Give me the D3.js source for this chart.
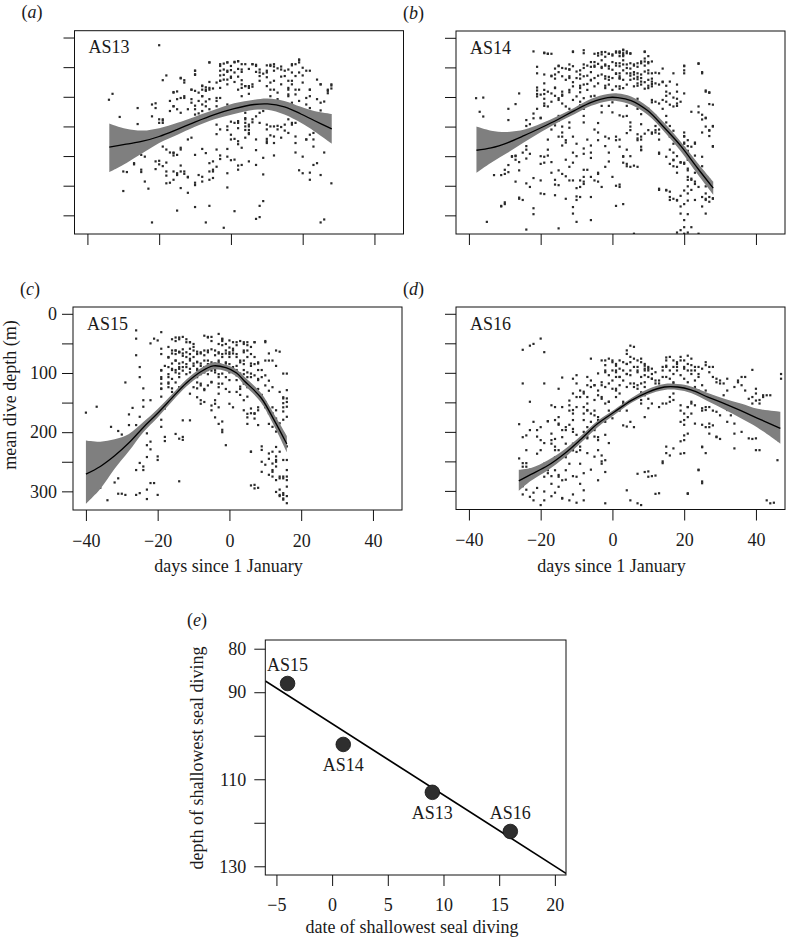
<!DOCTYPE html>
<html><head><meta charset="utf-8">
<script src="https://cdn.jsdelivr.net/npm/d3@7"></script>
<style>
body{margin:0;background:#fff}
svg{display:block}
text{font-family:"Liberation Serif","Times New Roman",Times,serif;fill:#1a1a1a}
</style>
</head><body>
<svg id="chart" width="789" height="941" font-family="Liberation Serif, Times New Roman, serif"></svg>
<script>
// ---------------- DATA ----------------
const seals = ["AS13", "AS14", "AS15", "AS16"];
const panelLetters = ["a", "b", "c", "d"];
const dayTicks = [-40, -20, 0, 20, 40];
const depthTicks = [0, 50, 100, 150, 200, 250, 300];
const depthTickLabels = [0, 100, 200, 300];

// [day since 1 January, mean dive depth (m)]
const AS13_points = [
[-20,13],[-34,105],[-33,95],[-31,134],[-30,226],[-29,227],[-30,259],[-26,119],[-26,146],[-25,198],[-24,201],[-25,227],[-27,214],[-23,255],[-22,312],[-22,133],[-21,111],[-21,119],[-21,222],[-20,208],[-20,214],[-20,144],[-19,140],[-19,144],[-19,72],[-18,64],[-19,184],[-18,211],[-18,226],[-18,233],[-17,245],[-17,107],[-17,194],[-16,194],[-16,199],[-16,92],[-15,91],[-16,116],[-15,121],[-15,292],[-14,69],[-13,72],[-14,102],[-13,102],[-14,186],[-15,229],[-14,226],[-14,216],[-12,172],[-11,169],[-12,236],[-12,262],[-10,56],[-10,63],[-11,88],[-10,90],[-11,110],[-10,115],[-10,121],[-10,245],[-10,286],[-9,232],[-9,128],[-8,81],[-8,88],[-7,88],[-7,84],[-6,88],[-5,86],[-8,99],[-8,113],[-7,108],[-7,116],[-8,188],[-7,312],[-6,75],[-6,42],[-6,212],[-6,226],[-5,209],[-5,223],[-5,237],[-6,284],[-4,102],[-4,116],[-4,124],[-4,163],[-3,48],[-3,56],[-3,64],[-3,73],[-3,85],[-3,199],[-3,205],[-2,321],[-2,44],[-1,42],[-2,54],[-2,63],[-1,58],[-1,71],[-1,79],[-1,156],[-1,188],[0,207],[-1,253],[0,55],[1,41],[2,40],[2,53],[0,66],[1,75],[2,66],[0,142],[0,164],[1,171],[2,180],[1,293],[2,216],[2,223],[2,144],[2,153],[3,45],[3,58],[3,72],[3,85],[4,82],[3,186],[4,127],[4,136],[5,119],[5,95],[5,82],[6,83],[4,144],[4,150],[4,156],[5,163],[5,156],[5,147],[6,45],[7,46],[7,58],[8,54],[8,65],[9,61],[6,143],[7,190],[7,306],[8,303],[8,284],[9,276],[9,231],[7,133],[8,127],[9,124],[10,56],[10,67],[10,82],[11,88],[12,88],[13,93],[10,155],[10,171],[10,178],[11,165],[11,150],[12,150],[13,149],[14,151],[12,199],[11,46],[12,49],[13,52],[14,54],[14,66],[15,157],[15,65],[16,73],[16,88],[16,99],[16,121],[17,116],[17,144],[18,144],[17,45],[18,45],[19,37],[19,42],[18,167],[17,73],[18,65],[18,96],[18,88],[18,194],[19,224],[20,229],[20,51],[20,64],[20,76],[20,201],[21,172],[22,164],[21,113],[22,119],[22,88],[22,99],[22,56],[22,240],[22,228],[23,215],[24,212],[23,184],[23,172],[24,71],[25,79],[25,110],[25,123],[25,232],[25,312],[26,307],[26,194],[26,108],[27,88],[27,94],[28,81],[28,86],[28,246],
[-6,42],[-3,45],[-1,42],[0,48],[1,42],[2,40],[4,45],[6,45],[7,48],[10,47],[11,48],[12,45],[14,49],[16,54],[17,47],[19,38],[21,56],[-10,56],[-10,62],[-1,56],[1,59],[3,54],[5,53],[8,59],[10,59],[12,56],[15,56],[17,59],[19,59],
[-14,68],[-13,76],[-11,88],[-9,93],[-8,82],[-7,90],[-6,85],[-4,76],[-3,73],[-2,71],[0,68],[2,88],[3,79],[4,82],[5,85],[6,79],[8,73],[11,76],[12,73],[14,79],[16,85],[17,79],[19,88],[22,88],[25,79],[27,90],[28,79],
[-16,93],[-15,104],[-13,99],[-11,104],[-9,107],[-8,99],[-6,104],[-4,107],[-3,102],[-1,113],[1,116],[3,99],[11,99],[13,104],[16,96],[17,110],[19,107],[21,102],[24,104],
[-22,113],[-20,138],[-19,138],[-17,124],[-16,116],[-14,127],[-12,121],[-10,130],[-8,124],[-7,136],[-6,121],[-4,127],
[-4,147],[-3,155],[-1,150],[1,144],[2,141],[4,138],[5,150],[6,138],[8,144],[10,147],[12,167],[13,155],[15,147],[16,138],[17,147],
[0,172],[2,175],[4,169],[5,161],[7,172],[10,175],[12,178],[14,169],[16,161],[18,178],[21,172],[23,161],[25,152],
[-18,189],[-16,195],[-15,198],[-14,189],[-10,198],[-7,195],[-4,189],[-1,201],[1,206],[3,215],[5,209],[7,215],[9,203],
[-27,212],[-25,223],[-21,209],[-19,217],[-16,226],[-15,232],[-13,226],[-12,235],[-8,235],[-5,226],[-4,218],[-1,229],
[-24,243],[-18,246],[-16,240],[-14,254],[-13,230],[-10,249],[-8,243],[-6,240]
];
const AS14_points = [
[-37,18],[-38,102],[-36,101],[-37,125],[-36,133],[-35,311],[-31,285],[-30,278],[-29,120],[-29,139],[-27,112],[-26,94],[-26,270],[-25,274],[-28,200],[-27,206],[-27,200],[-29,215],[-30,223],[-31,232],[-33,232],[-27,243],[-26,224],[-25,194],[-24,189],[-24,183],[-24,149],[-23,146],[-24,324],[-22,128],[-22,237],[-22,288],[-21,49],[-21,84],[-21,89],[-21,95],[-21,120],[-20,135],[-20,149],[-20,263],[-20,200],[-19,211],[-19,25],[-18,27],[-19,88],[-19,95],[-19,103],[-19,115],[-18,172],[-18,189],[-18,199],[-17,228],[-16,240],[-16,248],[-17,64],[-16,52],[-16,69],[-15,58],[-15,47],[-16,84],[-16,98],[-15,105],[-14,98],[-17,155],[-16,148],[-15,132],[-15,140],[-14,160],[-14,150],[-15,322],[-14,182],[-13,177],[-13,206],[-13,234],[-13,52],[-12,53],[-12,68],[-12,92],[-12,120],[-12,143],[-12,152],[-11,24],[-11,75],[-11,194],[-11,211],[-10,200],[-10,254],[-10,268],[-10,274],[-11,297],[-10,311],[-9,55],[-9,69],[-9,81],[-9,92],[-9,114],[-8,120],[-8,132],[-8,143],[-8,21],[-8,243],[-8,223],[-7,223],[-6,308],[-7,47],[-7,64],[-7,78],[-6,72],[-6,58],[-6,41],[-7,172],[-6,194],[-6,203],[-5,27],[-5,41],[-5,49],[-4,30],[-4,44],[-4,64],[-3,24],[-3,38],[-3,49],[-5,98],[-4,103],[-3,115],[-3,126],[-5,155],[-4,144],[-4,160],[-4,228],[-4,243],[-2,183],[-1,194],[-1,209],[-2,32],[-2,47],[-2,69],[-2,81],[-1,27],[-1,52],[-1,66],[-1,103],[-1,115],[0,109],[0,126],[0,30],[0,41],[1,25],[1,47],[1,61],[1,284],[2,248],[2,24],[2,69],[2,86],[3,21],[3,38],[3,55],[2,172],[3,200],[3,211],[4,217],[4,189],[5,200],[4,115],[4,132],[5,143],[6,331],[5,52],[5,64],[6,47],[6,58],[6,69],[7,49],[7,66],[7,81],[7,103],[7,120],[8,115],[8,129],[8,146],[7,163],[8,172],[8,189],[9,24],[9,35],[9,47],[10,41],[10,55],[9,75],[9,86],[10,81],[11,78],[11,69],[10,120],[11,109],[11,129],[12,132],[12,149],[11,160],[12,160],[13,155],[13,172],[13,194],[13,257],[14,52],[14,75],[15,81],[15,98],[15,257],[16,260],[16,274],[14,120],[15,132],[15,143],[16,149],[16,160],[17,157],[17,166],[16,189],[17,194],[17,206],[17,217],[18,200],[18,228],[19,211],[17,101],[18,103],[18,115],[18,274],[19,285],[20,47],[20,55],[20,160],[20,166],[20,177],[20,186],[19,297],[20,308],[19,325],[20,331],[20,211],[21,206],[21,183],[21,191],[21,240],[21,251],[21,263],[22,257],[22,240],[23,177],[23,228],[23,243],[23,274],[24,44],[25,58],[24,126],[25,138],[25,160],[25,217],[25,234],[26,251],[26,263],[26,89],[27,92],[26,135],[27,112],[27,157],[27,166],[28,149],[28,183],[26,274],[27,277],[28,271],[25,285],[26,297],[24,331],
[2,23],[3,26],[4,23],[3,29],[4,26],[5,26],[5,27],[2,31],[3,31],
[1,43],[2,43],[3,45],[4,45],[5,43],[6,45],[7,43],[8,40],[8,43],[9,40],[10,43],[11,40],[9,23],[10,31],
[1,60],[2,60],[4,60],[5,60],[6,62],[7,60],[8,62],[9,57],[10,60],[11,60],[12,59],[13,60],
[2,68],[3,71],[5,71],[7,70],[8,68],[8,74],[10,71],[11,74],[12,77],[14,74],[16,74],[17,60],[20,60],[20,48],[24,43],[25,60],
[1,82],[3,85],[4,79],[6,82],[7,77],[8,79],[10,85],[11,82],[13,79],[15,91],[16,94],[18,91],[18,79],[20,94],[26,91],[27,93],[28,113],
[11,105],[12,108],[13,111],[14,105],[15,108],[16,113],[17,116],[18,111],[19,108],
[22,125],[24,116],[25,130],[26,136],[26,150],[27,156],[28,150],[28,184],[2,131],[3,133],
[4,161],[5,156],[5,150],[7,170],[7,173],[8,167],[9,162],[10,156],[11,162],[12,156],[13,162],
[14,150],[15,156],[16,167],[17,179],[18,173],[19,184],[20,179],[20,167],[21,173],[22,184],[23,179],
[1,167],[2,184],[3,201],[4,213],[5,218],[6,216],[7,218],[8,190],[8,184],
[13,196],[15,201],[16,213],[17,207],[18,218],[19,210],[20,213],[21,224],[21,221],[23,199],[25,201],
[21,235],[22,238],[23,247],[24,252],[25,269],[26,272],[27,269],[28,272],
[13,255],[15,258],[16,269],[17,272],[18,275],[19,267],[20,258],[20,281],[21,298],[20,320],[22,320],[21,275],
[1,250],[2,252],[3,281],[18,329],[21,329],
[-19,26],[-18,27],[-17,27],[-22,23],[-11,23],[-8,26],[-4,26],[-3,28],[-2,24],[-1,27],[0,28],[1,23],[2,26],[3,20],
[-15,48],[-14,51],[-12,45],[-12,54],[-11,48],[-10,57],[-8,51],[-8,45],[-6,49],[-5,47],[-3,51],[-2,45],[-1,48],[0,54],[2,48],[4,51],
[-21,60],[-19,62],[-17,65],[-16,62],[-14,65],[-13,71],[-12,65],[-10,68],[-9,62],[-8,65],[-6,71],[-5,68],[-3,62],[-2,65],[-1,71],[0,68],[2,65],
[-19,77],[-18,91],[-17,94],[-16,85],[-14,91],[-14,96],[-12,88],[-11,82],[-9,85],[-8,79],[-7,88],[-5,82],[-4,77],[-2,85],[-1,79],[0,88],[2,82],
[-21,99],[-20,96],[-19,111],[-18,116],[-17,108],[-15,102],[-14,111],[-13,116],[-11,105],[-10,99],[-9,108],[-8,102],[-6,99],
[-24,139],[-22,136],[-20,136],
[-15,167],[-14,167],[-13,173],[-11,167],[-10,179],[-8,187],[-8,196],[-6,182],[-4,173],[-2,167],[-1,170],[1,173],
[-28,201],[-27,199],[-26,210],[-24,204],[-23,196],[-20,213],[-19,201],[-17,210],[-15,224],[-14,230],[-12,218],[-11,241],[-9,241],[-8,235],[-6,235],[-4,230],[-2,218],[0,235],
[-30,230],[-29,227],
[-24,246],[-23,252],[-20,241],[-15,249],[-12,241],[-9,252],[-8,247],[-5,241],[-3,252],
[-31,284],[-30,281],[-26,272],[-22,298],[-19,264],[-16,266],[-13,272],[-11,286],[-9,269],[-6,269]
];
const AS15_points = [
[-40,167],[-37,157],[-39,286],[-37,297],[-36,294],[-34,315],[-33,191],[-32,285],[-31,278],[-31,198],[-30,204],[-31,304],[-30,304],[-29,306],[-29,116],[-28,170],[-28,188],[-27,159],[-26,70],[-25,90],[-25,107],[-24,126],[-24,146],[-24,157],[-26,28],[-26,42],[-26,188],[-25,174],[-25,252],[-26,264],[-25,303],[-26,306],[-24,264],[-24,258],[-23,313],[-23,297],[-23,202],[-23,222],[-23,242],[-22,50],[-22,146],[-22,216],[-22,229],[-22,286],[-21,286],[-21,42],[-20,45],[-20,241],[-20,247],[-20,306],[-19,31],[-19,59],[-19,95],[-19,107],[-19,118],[-19,126],[-19,140],[-19,179],[-19,191],[-18,160],[-18,208],[-18,215],[-17,56],[-17,73],[-17,90],[-17,107],[-17,118],[-16,67],[-16,84],[-16,95],[-16,126],[-15,137],[-15,62],[-15,79],[-15,95],[-14,64],[-14,84],[-14,101],[-13,67],[-13,90],[-13,208],[-13,213],[-14,283],[-13,39],[-12,48],[-12,73],[-12,90],[-11,59],[-11,76],[-11,93],[-11,112],[-11,48],[-10,56],[-10,73],[-10,84],[-9,64],[-9,81],[-9,95],[-9,107],[-9,126],[-8,118],[-7,129],[-8,67],[-8,84],[-7,70],[-7,90],[-6,62],[-6,79],[-6,95],[-6,39],[-5,39],[-5,115],[-5,163],[-4,146],[-4,70],[-4,84],[-4,95],[-3,67],[-3,79],[-3,107],[-2,73],[-2,90],[-2,101],[-3,34],[-2,42],[-2,53],[-3,118],[-3,135],[-2,182],[-2,196],[-1,67],[-1,84],[0,73],[0,95],[0,112],[1,67],[1,90],[0,45],[1,48],[1,59],[2,53],[2,73],[2,95],[2,112],[3,79],[3,101],[3,123],[2,132],[3,137],[4,48],[4,62],[4,79],[5,53],[5,73],[6,56],[6,84],[4,95],[5,107],[5,118],[6,101],[6,123],[4,146],[5,140],[6,160],[6,168],[6,233],[7,48],[7,73],[8,84],[8,95],[8,112],[9,95],[9,107],[7,168],[7,177],[8,163],[8,188],[7,289],[8,294],[9,137],[10,149],[10,157],[11,168],[10,48],[11,67],[11,79],[9,250],[10,255],[11,272],[9,224],[12,168],[13,177],[13,199],[14,185],[14,196],[13,62],[14,64],[12,233],[13,241],[13,250],[13,258],[12,264],[14,275],[14,297],[15,314],[15,303],[15,278],[14,308],[15,101],[16,101],[15,143],[16,143],[15,151],[16,157],[15,165],[16,174],[15,179],[16,264],[16,275],[16,292],[16,308],[16,320],[16,129],[16,224],
[-15,40],[-14,43],[-12,43],[-11,48],[-10,51],[-7,37],[-6,40],[-5,46],[-3,51],[-2,46],[-2,43],[-1,51],[0,57],[2,48],[3,46],[4,51],[5,48],[7,48],[10,46],
[-15,62],[-14,65],[-13,60],[-12,65],[-11,68],[-10,62],[-9,68],[-8,65],[-7,62],[-6,65],[-5,60],[-4,62],[-3,65],[-2,68],[-1,62],[0,65],[0,68],[1,62],[2,68],[4,65],[5,62],[6,68],
[-15,79],[-13,82],[-12,85],[-11,79],[-10,88],[-9,82],[-8,88],[-7,79],[-6,85],[-5,82],[-4,88],[-4,85],[-3,82],[-2,88],[-1,82],[0,85],[2,88],[3,82],[4,85],[6,88],[7,85],[8,82],[10,79],[12,79],[13,88],
[-14,93],[-13,96],[-12,102],[-11,99],[-9,93],[-8,102],[-7,99],[-6,102],[-5,96],[-4,99],[-3,102],[-1,107],[0,99],[2,104],[4,102],[5,99],[6,107],[7,104],[8,110],[10,104],[11,113],
[-12,118],[-10,124],[-9,116],[-8,121],[-7,127],[-6,121],[-5,116],[-3,124],[-2,118],[-1,127],[0,132],[3,127],[4,118],[5,124],[7,130],[8,127],[10,121],[11,130],[12,124],[14,132],[15,141],[16,149],
[-11,135],[-9,141],[-8,146],[-8,152],[-7,149],[-5,155],[-4,152],[-3,158],[0,152],[1,158],[4,163],[5,169],[5,175],[7,169],[8,158],[10,158],[12,158],[13,163],[15,158],
[-13,180],[-11,180],[-4,175],[-3,186],[-2,200],[-1,222],[5,186],[11,186],[12,191],
[-15,203],[-14,211],[6,233],[9,230],[11,236],[11,245],[12,253],[13,247],[13,225],[14,233],[15,247],
[9,267],[12,275],[12,267],[13,281],[14,278],[15,275],[16,281],[16,247],[6,290],[7,295],[13,301],[14,306],[15,312],[15,306],
[-19,96],[-18,88],[-17,102],[-16,93],[-15,99],[-14,90],[-19,110],[-17,116],[-16,110],[-15,116],[-14,107],[-19,127],[-17,124],[-16,132],[-14,124],[-19,68],[-17,74],[-16,62],[-15,68],[-14,65],[-13,71],[-16,43],[-15,46],[-14,40]
];
const AS16_points = [
[-26,187],[-25,118],[-25,61],[-26,245],[-25,259],[-25,268],[-24,231],[-24,253],[-23,54],[-22,51],[-20,42],[-19,65],[-25,209],[-24,206],[-23,197],[-25,306],[-23,310],[-22,316],[-20,324],[-19,316],[-23,149],[-22,183],[-21,197],[-20,192],[-21,237],[-20,231],[-20,265],[-19,254],[-19,276],[-19,118],[-18,182],[-17,203],[-17,220],[-16,212],[-16,231],[-16,243],[-17,155],[-16,158],[-18,265],[-17,288],[-16,265],[-15,276],[-15,293],[-14,282],[-15,127],[-14,108],[-15,175],[-15,186],[-14,197],[-14,209],[-13,192],[-13,220],[-14,240],[-13,243],[-12,254],[-13,265],[-12,147],[-12,164],[-11,169],[-11,180],[-11,195],[-11,110],[-10,104],[-10,118],[-11,220],[-11,231],[-10,234],[-9,231],[-9,254],[-10,276],[-9,288],[-8,299],[-8,316],[-12,316],[-14,313],[-9,130],[-9,141],[-8,135],[-8,158],[-7,152],[-7,164],[-8,180],[-7,192],[-7,209],[-7,107],[-6,76],[-6,124],[-6,169],[-6,183],[-5,164],[-5,197],[-4,180],[-4,209],[-4,231],[-3,240],[-3,254],[-2,248],[-2,268],[-5,121],[-4,130],[-3,121],[-3,141],[-4,282],[-3,79],[-2,87],[-2,99],[-2,152],[-1,149],[-1,164],[-2,321],[-1,76],[0,79],[0,96],[0,113],[1,85],[1,96],[1,107],[0,127],[1,130],[2,135],[2,93],[2,107],[3,82],[3,96],[3,113],[4,62],[4,68],[4,85],[4,102],[2,164],[3,152],[4,164],[4,191],[4,299],[5,316],[7,321],[8,324],[5,54],[5,73],[5,96],[6,56],[6,76],[6,90],[7,79],[7,96],[5,118],[6,124],[7,121],[7,141],[8,118],[8,133],[8,152],[6,192],[8,76],[9,85],[9,96],[10,90],[10,107],[11,93],[11,110],[7,271],[9,268],[10,276],[12,274],[12,305],[12,118],[13,113],[13,124],[14,96],[14,107],[15,90],[15,79],[14,253],[15,236],[16,240],[15,152],[16,149],[16,141],[17,135],[17,118],[16,73],[17,79],[17,90],[18,85],[18,96],[19,73],[20,79],[20,90],[19,164],[20,169],[20,180],[21,158],[21,175],[22,152],[22,169],[19,237],[20,214],[21,305],[21,96],[22,87],[22,102],[23,96],[23,113],[24,90],[24,107],[23,124],[24,130],[25,121],[25,135],[26,130],[24,265],[25,287],[25,226],[25,164],[26,158],[26,192],[27,192],[28,189],[28,164],[26,87],[27,90],[28,90],[29,209],[30,212],[29,110],[30,113],[30,118],[31,138],[32,130],[34,228],[34,152],[35,113],[36,121],[37,107],[37,130],[38,144],[39,152],[39,141],[40,135],[39,95],[40,147],[41,152],[42,138],[39,212],[40,231],[41,175],[43,316],[44,321],[45,320],[46,248],[47,102],[47,110],[44,138],
[-2,79],[0,82],[1,88],[2,79],[4,85],[5,82],[7,90],[8,82],[9,88],[10,93],
[-4,101],[-2,96],[-1,104],[1,99],[2,107],[4,102],[5,104],[7,99],[8,107],[9,104],
[-7,121],[-6,113],[-5,121],[-3,116],[-2,124],[-1,118],[1,127],[2,121],[4,124],[6,118],[7,127],[9,124],
[-11,135],[-10,141],[-8,132],[-7,141],[-5,146],[-4,138],[-3,144],[-1,149],[1,141],[3,149],[6,144],[8,146],
[-14,158],[-12,155],[-11,163],[-10,158],[-8,169],[-7,163],[-5,172],[-4,175],[-2,183],[0,177],[3,189],[5,183],
[-18,182],[-16,180],[-15,188],[-13,197],[-12,188],[-11,200],[-10,205],[-8,200],[-7,211],[-5,208],[-4,214],[-2,205],[-1,219],
[-21,208],[-20,214],[-19,219],[-17,214],[-16,225],[-15,231],[-13,236],[-11,231],[-9,225],[-7,236],[-5,242],[-3,250],
[-25,253],[-24,259],[-23,264],[-21,261],[-20,267],[-18,270],[-17,275],[-15,273],[-13,281],[-11,275],[-8,270],[-6,264],
[-25,292],[-24,298],[-22,303],[-21,295],[-19,301],[-17,309],[-16,303],[-14,312],[-11,306],[-10,320],
[9,93],[10,96],[11,102],[12,99],[14,90],[15,88],[15,74],[16,96],[17,102],[18,90],[18,82],[19,79],[20,93],[21,85],[21,71],[22,76],[22,96],[23,90],[24,102],[25,93],[26,82],[27,99],[28,107],[29,116],[31,118],[32,110],[34,124],[35,116],[36,107],[40,127],[42,141],[43,138],
[9,116],[11,110],[12,113],[13,118],[15,107],[16,110],[17,116],[19,104],[20,110],[21,116],
[9,138],[10,144],[11,152],[13,158],[14,152],[17,146],[19,155],[21,158],[22,149],[23,155],[25,160],[26,163],[27,158],[29,166],[30,172],[32,163],[33,172],[35,169],[36,158],[37,163],[41,146],
[9,175],[10,160],[19,183],[20,188],[23,186],[25,188],[27,186],[32,183],[34,186],[20,206],[21,203],[27,203],[29,208],[34,203],[36,200],[38,211],[40,211],[41,231],
[15,225],[17,228],[19,216],[20,236],[25,225],[26,236],[14,250],[11,275],[10,267],[24,264],[25,284],[13,304],[21,304]
];

// smoothed fit: [day, fitted depth, upper CI (shallow), lower CI (deep)]
const AS13_fit = [
[-33.9,185,145,227],[-29.2,180,154,212],[-24.6,175,157,195],[-20.0,167,153,178],[-14.9,155,144,164],[-10.2,143,134,151],[-4.6,130,122,138],[0.9,120,111,129],[6.5,113,105,122],[10.2,112,103,122],[14.9,117,107,130],[19.5,129,117,144],[23.2,140,124,158],[28.1,154,129,179]
];
const AS14_fit = [
[-37.9,190,150,228],[-33.8,186,157,211],[-29.1,177,159,194],[-24.5,165,155,176],[-19.9,152,145,159],[-15.2,138,132,143],[-10.6,123,118,129],[-5.9,109,103,115],[-1.3,101,95,107],[1.5,101,94,107],[5.2,106,99,113],[9.8,123,116,130],[14.5,152,144,159],[19.1,183,176,192],[23.7,220,211,230],[28.1,254,243,265]
];
const AS15_fit = [
[-40,271,214,321],[-36,258,216,296],[-32,240,212,262],[-28,218,203,232],[-24,192,183,200],[-20,168,161,175],[-16,142,136,148],[-12,117,111,123],[-8,98,92,104],[-4.5,88,82,94],[-1,91,86,97],[2,100,94,106],[4.1,113,106,120],[8.7,141,133,149],[12.5,180,170,190],[16,220,206,234]
];
const AS16_fit = [
[-26.1,283,264,300],[-22.7,272,261,283],[-18.0,257,248,265],[-13.4,237,230,244],[-8.7,212,206,218],[-4.1,186,181,192],[0.6,166,162,171],[5.2,147,143,151],[9.8,133,128,137],[14.5,124,119,129],[18.2,124,119,129],[21.9,129,123,134],[26.6,141,134,148],[31.2,152,144,162],[35.8,164,152,177],[40.5,177,161,193],[46.8,194,166,220]
];

// panel (e): date and depth of shallowest diving, per seal (same order as `seals`)
const shallowDate = [9, 1, -4, 16];
const shallowDepth = [113, 102, 88, 122];
const labelSide = ["below", "below", "above", "above"];
const eXTicks = [-5, 0, 5, 10, 15, 20];
const eYTicks = [80, 90, 100, 110, 120, 130];
const eYTickLabels = [80, 90, 110, 130];

// ---------------- DRAWING ----------------
const svg = d3.select("#chart");
const FS = 18;
const FONT = '"Liberation Serif","Times New Roman",Times,serif';
const minus = v => (v < 0 ? "\u2212" + Math.abs(v) : String(v));

const pointSets = [AS13_points, AS14_points, AS15_points, AS16_points];
const fitSets = [AS13_fit, AS14_fit, AS15_fit, AS16_fit];
const boxes = [
  {x: 74.5, y: 30.7, w: 329, h: 203.3, xl: false, yl: false},
  {x: 456, y: 31, w: 329, h: 203, xl: false, yl: false},
  {x: 73, y: 307, w: 329, h: 203, xl: true, yl: true},
  {x: 456, y: 307, w: 329, h: 202.5, xl: true, yl: false}
];

function txt(sel) { return sel.style("font-size", FS + "px").style("font-family", FONT); }
function panelLetter(g, letter, x, y) {
  const t = txt(g.append("text").attr("x", x).attr("y", y));
  t.append("tspan").text("(");
  t.append("tspan").style("font-style", "italic").text(letter);
  t.append("tspan").text(")");
}
function styleAxis(a) {
  a.select(".domain").remove();
  a.selectAll("line").attr("stroke", "#111");
  txt(a.selectAll("text")).attr("fill", "#1a1a1a");
}

seals.forEach((name, i) => {
  const b = boxes[i];
  const g = svg.append("g");
  const x = d3.scaleLinear().domain([-43.6, 48.1]).range([b.x, b.x + b.w]);
  const y = d3.scaleLinear().domain([-11.5, 331.5]).range([b.y, b.y + b.h]);

  const clipId = "clip" + i;
  svg.append("clipPath").attr("id", clipId).append("rect")
    .attr("x", b.x).attr("y", b.y).attr("width", b.w).attr("height", b.h);

  const inner = g.append("g").attr("clip-path", `url(#${clipId})`);
  inner.selectAll("rect").data(pointSets[i]).join("rect")
    .attr("x", d => x(d[0]) - 1.1).attr("y", d => y(d[1]) - 1.1)
    .attr("width", 2.2).attr("height", 2.2).attr("fill", "#2a2a2a");

  const area = d3.area().x(d => x(d[0])).y0(d => y(d[2])).y1(d => y(d[3]))
    .curve(d3.curveCatmullRom.alpha(0.5));
  inner.append("path").datum(fitSets[i]).attr("d", area).attr("fill", "#7f7f7f");
  const line = d3.line().x(d => x(d[0])).y(d => y(d[1])).curve(d3.curveCatmullRom.alpha(0.5));
  inner.append("path").datum(fitSets[i]).attr("d", line)
    .attr("fill", "none").attr("stroke", "#000").attr("stroke-width", 1.3);

  g.append("rect").attr("x", b.x).attr("y", b.y).attr("width", b.w).attr("height", b.h)
    .attr("fill", "none").attr("stroke", "#111").attr("stroke-width", 1);

  const xa = d3.axisBottom(x).tickValues(dayTicks).tickSize(11).tickPadding(13)
    .tickFormat(d => b.xl ? minus(d) : "");
  styleAxis(g.append("g").attr("transform", `translate(0,${b.y + b.h})`).call(xa));
  const ya = d3.axisLeft(y).tickValues(depthTicks).tickSize(11).tickPadding(5)
    .tickFormat(d => (b.yl && depthTickLabels.includes(d)) ? d : "");
  styleAxis(g.append("g").attr("transform", `translate(${b.x},0)`).call(ya));

  txt(g.append("text").attr("x", b.x + 14).attr("y", b.y + 22.5)).text(name);
  panelLetter(g, panelLetters[i], b.x - 53, b.y - 12.5);

  if (b.xl) {
    txt(g.append("text").attr("x", x(0) - 1).attr("y", 572).attr("text-anchor", "middle"))
      .text("days since 1 January");
  }
});

txt(svg.append("text").attr("transform", "translate(16,395) rotate(-90)")
  .attr("text-anchor", "middle")).text("mean dive depth (m)");

// ---- panel (e)
const eb = {x: 265.3, y: 640, w: 300.7, h: 235};
const ex = d3.scaleLinear().domain([-6, 21]).range([eb.x, eb.x + eb.w]);
const ey = d3.scaleLinear().domain([78, 132]).range([eb.y, eb.y + eb.h]);
const ge = svg.append("g");
svg.append("clipPath").attr("id", "clipE").append("rect")
  .attr("x", eb.x).attr("y", eb.y).attr("width", eb.w).attr("height", eb.h);

// least-squares line through the four seals
const mx = d3.mean(shallowDate), my = d3.mean(shallowDepth);
const slope = d3.sum(shallowDate, (v, k) => (v - mx) * (shallowDepth[k] - my)) /
              d3.sum(shallowDate, v => (v - mx) * (v - mx));
const icpt = my - slope * mx;
const dom = ex.domain();
ge.append("line").attr("clip-path", "url(#clipE)")
  .attr("x1", ex(dom[0])).attr("y1", ey(icpt + slope * dom[0]))
  .attr("x2", ex(dom[1])).attr("y2", ey(icpt + slope * dom[1]))
  .attr("stroke", "#000").attr("stroke-width", 1.7);

ge.selectAll("circle.seal").data(seals).join("circle").attr("class", "seal")
  .attr("cx", (d, k) => ex(shallowDate[k])).attr("cy", (d, k) => ey(shallowDepth[k]))
  .attr("r", 7.3).attr("fill", "#2e2e2e").attr("stroke", "#111").attr("stroke-width", 0.8);
txt(ge.selectAll("text.seal").data(seals).join("text").attr("class", "seal")
  .attr("x", (d, k) => ex(shallowDate[k]))
  .attr("y", (d, k) => ey(shallowDepth[k]) + (labelSide[k] === "above" ? -12.5 : 27))
  .attr("text-anchor", "middle")).text(d => d);

ge.append("rect").attr("x", eb.x).attr("y", eb.y).attr("width", eb.w).attr("height", eb.h)
  .attr("fill", "none").attr("stroke", "#111").attr("stroke-width", 1);

const exa = d3.axisBottom(ex).tickValues(eXTicks).tickSize(11).tickPadding(12).tickFormat(minus);
const eya = d3.axisLeft(ey).tickValues(eYTicks).tickSize(11).tickPadding(8)
  .tickFormat(d => eYTickLabels.includes(d) ? d : "");
styleAxis(ge.append("g").attr("transform", `translate(0,${eb.y + eb.h})`).call(exa));
styleAxis(ge.append("g").attr("transform", `translate(${eb.x},0)`).call(eya));
panelLetter(ge, "e", 187, 626);
txt(ge.append("text").attr("x", 412).attr("y", 933).attr("text-anchor", "middle"))
  .text("date of shallowest seal diving");
txt(ge.append("text").attr("transform", "translate(203,758) rotate(-90)")
  .attr("text-anchor", "middle")).text("depth of shallowest seal diving");
</script>
</body></html>
